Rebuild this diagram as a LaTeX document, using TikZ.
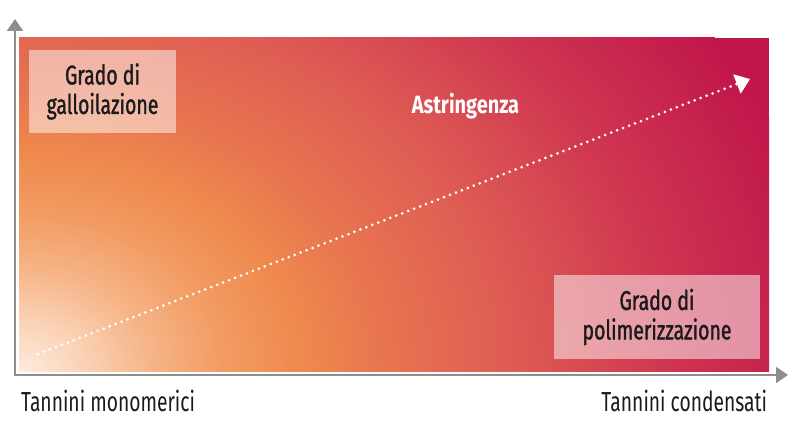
\documentclass[tikz,border=0pt]{standalone}
\usepackage{fontspec}
\setmainfont{Fira Sans}[FakeStretch=0.70]
\newfontfamily\boxfont{Fira Sans}[FakeStretch=0.72,FakeBold=1.2]
\newfontfamily\titlefont{Fira Sans}[FakeStretch=0.80]
\usetikzlibrary{arrows.meta}

\definecolor{axisgray}{HTML}{8E8E8E}
\definecolor{inkblack}{HTML}{1A1A1A}
\definecolor{peach}{HTML}{FEEBDD}
\definecolor{palepeach}{HTML}{FAD2B6}
\definecolor{apricot}{HTML}{F6B588}
\definecolor{lightorange}{HTML}{F29C64}
\definecolor{tanorange}{HTML}{EF8A4E}
\definecolor{coral}{HTML}{E8754F}
\definecolor{brickred}{HTML}{DE5C54}
\definecolor{rosered}{HTML}{CE3450}
\definecolor{crimson}{HTML}{C0164B}

\pgfdeclareradialshading{astringenza}{\pgfpoint{0bp}{0bp}}{%
  color(0bp)=(peach); color(2bp)=(palepeach); color(4bp)=(apricot);
  color(6.2bp)=(lightorange); color(8.5bp)=(tanorange); color(11bp)=(coral);
  color(15bp)=(brickred); color(20bp)=(rosered); color(25bp)=(crimson);
  color(50bp)=(crimson)}

\begin{document}
\begin{tikzpicture}[x=1pt,y=1pt,line width=2pt,
  axis/.style={draw=axisgray,line join=miter,{Triangle[length=12pt,width=16pt]}-{Triangle[length=12pt,width=16pt]}},
  box/.style={fill=white,fill opacity=0.5,text opacity=1,text=inkblack,align=center,inner sep=0pt,font=\boxfont\fontsize{27}{29.5}\selectfont},
  axislabel/.style={inner sep=0pt,text=inkblack,font=\fontsize{27.5}{30}\selectfont}]
  \useasboundingbox (0,0) rectangle (796,432);
  \begin{scope}
    \clip (19,61) rectangle (769,394);
    \fill[crimson] (19,61) rectangle (769,394);
    \shade[shading=astringenza] (19,61) ellipse (820pt and 630pt);
  \end{scope}
  % assi
  \coordinate (ytip) at (15,413);
  \coordinate (xtip) at (788,57);
  \draw[axis] (ytip) |- (xtip);
  \node[axislabel,anchor=base west] (monomerici) at (20,21) {Tannini monomerici};
  \node[axislabel,anchor=base east] (condensati) at (768,21) {Tannini condensati};
  % freccia puntinata
  \coordinate (start) at (38,78);
  \coordinate (finish) at (750,353);
  \draw[white,line width=3pt,line cap=round,dash pattern=on 0pt off 6.4pt,-{Triangle[length=14pt,width=20pt]}] (start) -- (finish);
  \node[anchor=base,text=white,inner sep=0pt,font=\titlefont\bfseries\fontsize{25}{27}\selectfont] (astr) at (465.5,318) {Astringenza};
  % riquadri
  \node[box,minimum width=147pt,minimum height=83pt] (galloil) at (102.5,340.5) {Grado di\\galloilazione};
  \node[box,minimum width=206pt,minimum height=84pt] (polimer) at (657,115) {Grado di\\polimerizzazione};
\end{tikzpicture}
\end{document}
